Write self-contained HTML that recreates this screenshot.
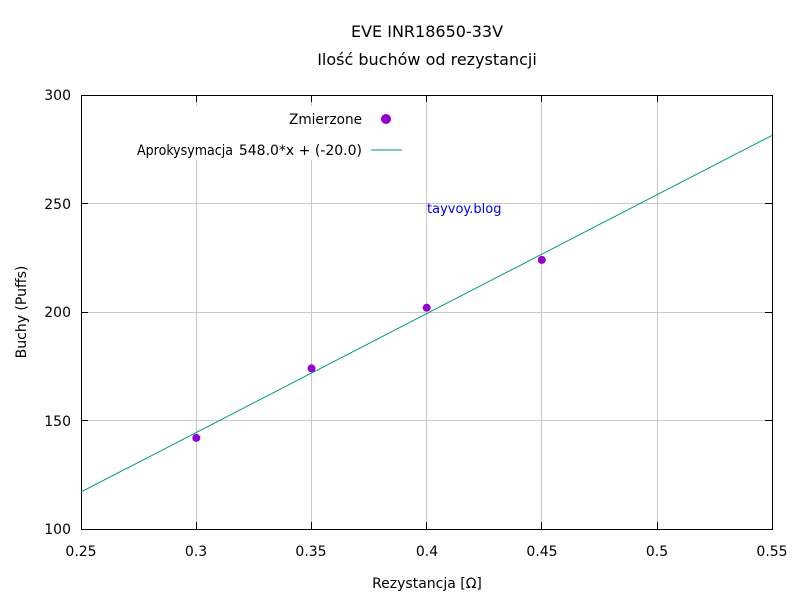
<!DOCTYPE html>
<html><head><meta charset="utf-8"><style>body{margin:0;background:#fff}svg{display:block}text{font-family:"DejaVu Sans","Liberation Sans",sans-serif;font-size:14px;fill:#000}</style></head><body>
<svg width="800" height="600" viewBox="0 0 800 600">
<rect width="800" height="600" fill="#fff"/>
<g stroke="#c8c8c8" stroke-width="1">
<line x1="196.5" y1="95" x2="196.5" y2="529"/>
<line x1="311.5" y1="95" x2="311.5" y2="529"/>
<line x1="426.5" y1="95" x2="426.5" y2="529"/>
<line x1="541.5" y1="95" x2="541.5" y2="529"/>
<line x1="657.5" y1="95" x2="657.5" y2="529"/>
<line x1="81" y1="203.5" x2="772" y2="203.5"/>
<line x1="81" y1="312.5" x2="772" y2="312.5"/>
<line x1="81" y1="420.5" x2="772" y2="420.5"/>
</g>
<rect x="130" y="106" width="280" height="54" fill="#fff"/>
<rect x="81.5" y="95.5" width="691" height="434" fill="none" stroke="#000"/>
<g stroke="#000">
<line x1="81" y1="203.5" x2="88" y2="203.5"/><line x1="772" y1="203.5" x2="765" y2="203.5"/>
<line x1="81" y1="312.5" x2="88" y2="312.5"/><line x1="772" y1="312.5" x2="765" y2="312.5"/>
<line x1="81" y1="420.5" x2="88" y2="420.5"/><line x1="772" y1="420.5" x2="765" y2="420.5"/>
<line x1="196.5" y1="529" x2="196.5" y2="522"/><line x1="196.5" y1="95" x2="196.5" y2="102"/>
<line x1="311.5" y1="529" x2="311.5" y2="522"/><line x1="311.5" y1="95" x2="311.5" y2="102"/>
<line x1="426.5" y1="529" x2="426.5" y2="522"/><line x1="426.5" y1="95" x2="426.5" y2="102"/>
<line x1="541.5" y1="529" x2="541.5" y2="522"/><line x1="541.5" y1="95" x2="541.5" y2="102"/>
<line x1="657.5" y1="529" x2="657.5" y2="522"/><line x1="657.5" y1="95" x2="657.5" y2="102"/>
</g>
<g text-anchor="end">
<text x="71" y="100">300</text><text x="71" y="209">250</text><text x="71" y="317">200</text><text x="71" y="426">150</text><text x="71" y="534">100</text>
</g>
<g text-anchor="middle">
<text x="81" y="556">0.25</text><text x="196" y="556">0.3</text><text x="311" y="556">0.35</text><text x="427" y="556">0.4</text><text x="542" y="556">0.45</text><text x="657" y="556">0.5</text><text x="772" y="556">0.55</text>
<text x="427" y="588">Rezystancja [Ω]</text>
<text x="427" y="37" style="font-size:16px">EVE INR18650-33V</text>
<text x="427" y="65" style="font-size:16px">Ilość buchów od rezystancji</text>
</g>
<text transform="translate(26,312) rotate(-90)" text-anchor="middle">Buchy (Puffs)</text>
<text x="289" y="124" textLength="73" lengthAdjust="spacingAndGlyphs">Zmierzone</text>
<circle cx="386" cy="119" r="5" fill="#9400d3"/>
<text x="137" y="155" textLength="96" lengthAdjust="spacingAndGlyphs">Aprokysymacja</text>
<text x="362" y="155" text-anchor="end">548.0*x + (-20.0)</text>
<line x1="371" y1="150" x2="402" y2="150" stroke="#009e73"/>
<text x="427" y="213" style="fill:#0000ff;font-size:13px">tayvoy.blog</text>
<line x1="81" y1="492" x2="772" y2="135.4" stroke="#009e73"/>
<g fill="#9400d3">
<circle cx="196.3" cy="437.9" r="4"/><circle cx="311.5" cy="368.4" r="4"/><circle cx="426.7" cy="307.7" r="4"/><circle cx="541.8" cy="259.9" r="4"/>
</g>
</svg>
</body></html>
